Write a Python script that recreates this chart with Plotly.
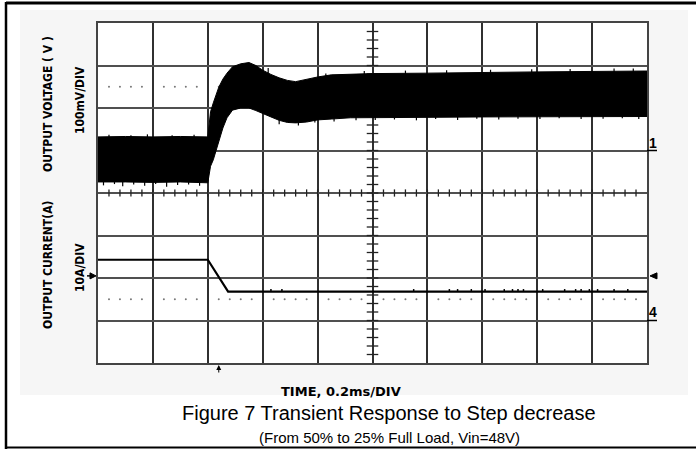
import plotly.graph_objects as go

# time axis, ms (0.2 ms/div, 10 div)
volt_t = [0.00, 0.10, 0.20, 0.30, 0.40, 0.41, 0.42, 0.44, 0.455, 0.47, 0.49, 0.52, 0.55, 0.575,
          0.60, 0.63, 0.66, 0.69, 0.72, 0.76, 0.80, 0.85, 0.92, 1.00, 1.20, 1.40, 1.60, 1.80, 2.00]
# output voltage ripple envelope, mV relative to the channel 1 marker (100 mV/div)
volt_top = [32, 33, 32, 33, 32, 91, 112, 149, 168, 182, 197, 204, 207, 200,
            189, 179, 171, 165, 162, 168, 173, 178, 180, 181, 182, 184, 185, 186, 187]
volt_bot = [-74, -74, -75, -74, -76, -37, -22, 20, 53, 77, 95, 100, 100, 94,
            88, 79, 71, 66, 65, 67, 72, 74, 77, 78, 78, 79, 79, 80, 80]

# noise spikes sticking out of the ripple band (time ms, tip mV)
spike_low_t = [0.02, 0.06, 0.09, 0.13, 0.17, 0.21, 0.25, 0.29, 0.33, 0.37,
               0.66, 0.73, 0.79, 0.86, 0.94, 1.01, 1.08, 1.16, 1.23, 1.31,
               1.38, 1.46, 1.53, 1.61, 1.68, 1.76, 1.84, 1.91, 1.97]
spike_low_v = [-82, -79, -84, -80, -83, -79, -85, -81, -80, -83,
               62, 59, 66, 68, 71, 72, 73, 71, 74, 72,
               75, 73, 75, 74, 76, 74, 75, 76, 74]
spike_high_t = [0.04, 0.12, 0.18, 0.27, 0.35, 0.62, 0.83, 0.97, 1.12, 1.27, 1.43, 1.58, 1.72, 1.88, 1.95]
spike_high_v = [37, 36, 38, 36, 37, 194, 181, 187, 188, 189, 190, 191, 192, 193, 193]

# output current, A relative to the channel 4 marker (10 A/div)
curr_t = [0.00, 0.40, 0.474, 2.00]
curr_a = [14.3, 14.3, 6.8, 6.8]
blip_t = [0.63, 0.67, 1.15, 1.28, 1.31, 1.36, 1.41, 1.48, 1.51, 1.53, 1.55,
          1.62, 1.70, 1.74, 1.76, 1.79, 1.82, 1.88, 1.93]
blip_a = 7.4
trig_level = 10.5   # A
trig_time = 0.44    # ms

CH1 = 1.0    # screen division of channel 1 marker
CH4 = -3.0   # screen division of channel 4 marker


def v2div(mv):
    return CH1 + mv / 100.0


def a2div(a):
    return CH4 + a / 10.0


# pixel -> paper helpers for the decorations around the screen
L, R, T, B = 98, 647, 23, 363


def xp(px):
    return (px - L) / (R - L)


def yp(py):
    return (B - py) / (B - T)


def tri_path(pts):
    return 'M ' + ' L '.join('%.4f,%.4f' % (xp(x), yp(y)) for x, y in pts) + ' Z'


fig = go.Figure()

# dotted reference rows
dot_x, dot_y = [], []
for row in (2.5, -2.5):
    for i in range(50):
        if i % 5:
            dot_x.append(i * 0.04)
            dot_y.append(row)
fig.add_trace(go.Scatter(x=dot_x, y=dot_y, mode='markers',
                         marker=dict(size=2, color='#777777'), hoverinfo='skip'))

# centre cross ticks
tk_x, tk_y = [], []
for i in range(1, 50):
    tk_x += [i * 0.04, i * 0.04, None]
    tk_y += [-0.085, 0.085, None]
for i in range(1, 40):
    y = -4 + i * 0.2
    tk_x += [1.0 - 0.021, 1.0 + 0.021, None]
    tk_y += [y, y, None]
fig.add_trace(go.Scatter(x=tk_x, y=tk_y, mode='lines',
                         line=dict(color='#222222', width=1.3), hoverinfo='skip'))

# voltage ripple band
band_x = volt_t + volt_t[::-1]
band_y = [v2div(v) for v in volt_top] + [v2div(v) for v in volt_bot[::-1]]
fig.add_trace(go.Scatter(x=band_x, y=band_y, mode='lines', fill='toself',
                         fillcolor='black', line=dict(color='black', width=1),
                         name='Output voltage'))

sp_x, sp_y = [], []
for t, v in zip(spike_low_t, spike_low_v):
    sp_x += [t, t, None]
    sp_y += [v2div(v), v2div(v + 15), None]
for t, v in zip(spike_high_t, spike_high_v):
    sp_x += [t, t, None]
    sp_y += [v2div(v), v2div(v - 15), None]
fig.add_trace(go.Scatter(x=sp_x, y=sp_y, mode='lines',
                         line=dict(color='black', width=1.2), hoverinfo='skip'))

# current trace
fig.add_trace(go.Scatter(x=curr_t, y=[a2div(a) for a in curr_a], mode='lines',
                         line=dict(color='black', width=2.2), name='Output current'))
bl_x, bl_y = [], []
for t in blip_t:
    bl_x += [t, t, None]
    bl_y += [a2div(curr_a[-1]), a2div(blip_a), None]
fig.add_trace(go.Scatter(x=bl_x, y=bl_y, mode='lines',
                         line=dict(color='black', width=1.5), hoverinfo='skip'))

trig_py = B - (a2div(trig_level) + 4) / 8 * (B - T)

shapes = [
    dict(type='rect', xref='paper', yref='paper', x0=xp(20), x1=xp(688), y0=yp(395), y1=yp(10),
         fillcolor='#f6f6f6', line=dict(width=0), layer='below'),
    dict(type='rect', xref='paper', yref='paper', x0=0, x1=1, y0=0, y1=1,
         fillcolor='white', line=dict(width=0), layer='below'),
    dict(type='line', xref='paper', yref='paper', x0=xp(6), x1=xp(697), y0=yp(3), y1=yp(3),
         line=dict(color='black', width=3)),
    dict(type='line', xref='paper', yref='paper', x0=xp(6), x1=xp(6), y0=yp(2), y1=yp(449),
         line=dict(color='black', width=2.5)),
    dict(type='line', xref='paper', yref='paper', x0=xp(6), x1=xp(697), y0=yp(447.5), y1=yp(447.5),
         line=dict(color='black', width=2)),
    # channel marker underlines
    dict(type='line', xref='paper', yref='y', x0=1, x1=xp(657), y0=CH1, y1=CH1,
         line=dict(color='black', width=1.5)),
    dict(type='line', xref='paper', yref='y', x0=1, x1=xp(657), y0=CH4, y1=CH4,
         line=dict(color='black', width=1.5)),
    # trigger level markers either side of the screen
    dict(type='path', xref='paper', yref='paper',
         path=tri_path([(90, trig_py - 3), (96, trig_py), (90, trig_py + 3)]),
         fillcolor='black', line=dict(color='black', width=1)),
    dict(type='line', xref='paper', yref='paper', x0=xp(87), x1=xp(91), y0=yp(trig_py), y1=yp(trig_py),
         line=dict(color='black', width=1.5)),
    dict(type='path', xref='paper', yref='paper',
         path=tri_path([(657, trig_py - 3), (650, trig_py), (657, trig_py + 3)]),
         fillcolor='black', line=dict(color='black', width=1)),
]

narrow = 'Liberation Sans Narrow, Arial Narrow, DejaVu Sans Condensed, sans-serif'
arial = 'Liberation Sans, Arial, sans-serif'
ann = [
    dict(x=xp(48), y=yp(104), text='<b>OUTPUT VOLTAGE ( V )</b>', textangle=-90,
         font=dict(family=narrow, size=12, color='black')),
    dict(x=xp(80), y=yp(100), text='<b>100mV/DIV</b>', textangle=-90,
         font=dict(family=narrow, size=12, color='black')),
    dict(x=xp(48), y=yp(265), text='<b>OUTPUT CURRENT(A)</b>', textangle=-90,
         font=dict(family=narrow, size=12, color='black')),
    dict(x=xp(80), y=yp(268), text='<b>10A/DIV</b>', textangle=-90,
         font=dict(family=narrow, size=12, color='black')),
    dict(x=xp(653), y=yp(143), text='<b>1</b>',
         font=dict(family=arial, size=14, color='black')),
    dict(x=xp(653), y=yp(312), text='<b>4</b>',
         font=dict(family=arial, size=14, color='black')),
    dict(x=xp(341), y=yp(391), text='<b>TIME, 0.2ms/DIV</b>',
         font=dict(family='DejaVu Sans, sans-serif', size=13, color='black')),
    dict(x=xp(389), y=yp(413), text='Figure 7 Transient Response to Step decrease',
         font=dict(family=arial, size=20, color='black')),
    dict(x=xp(389), y=yp(437), text='(From 50% to 25% Full Load, Vin=48V)',
         font=dict(family=arial, size=15, color='black')),
]
for a in ann:
    a['xref'] = 'paper'
    a['yref'] = 'paper'
    a['xanchor'] = 'center'
    a['yanchor'] = 'middle'
    a['showarrow'] = False

# trigger position arrow under the screen
ann.append(dict(x=trig_time, xref='x', y=yp(365), yref='paper', text='', showarrow=True,
                ax=0, ay=9, arrowhead=2, arrowsize=1, arrowwidth=1, arrowcolor='black'))

fig.update_layout(
    width=696, height=449,
    margin=dict(l=L, r=696 - R, t=T, b=449 - B),
    paper_bgcolor='white', plot_bgcolor='white',
    showlegend=False,
    shapes=shapes, annotations=ann,
    xaxis=dict(range=[0, 2], dtick=0.2, tick0=0, showticklabels=False, ticks='',
               showgrid=True, gridcolor='#303030', gridwidth=1.5, zeroline=False,
               showline=True, linecolor='#444444', linewidth=1.5, mirror=True),
    yaxis=dict(range=[-4, 4], dtick=1, tick0=0, showticklabels=False, ticks='',
               showgrid=True, gridcolor='#505050', gridwidth=1.5, zeroline=False,
               showline=True, linecolor='#444444', linewidth=1.5, mirror=True),
)

# page has the default 8px body margin; drop it so the figure sits at (0, 0)
fig.write_html('out.html', config={'displayModeBar': False},
               post_script="document.body.style.margin = '0';")
